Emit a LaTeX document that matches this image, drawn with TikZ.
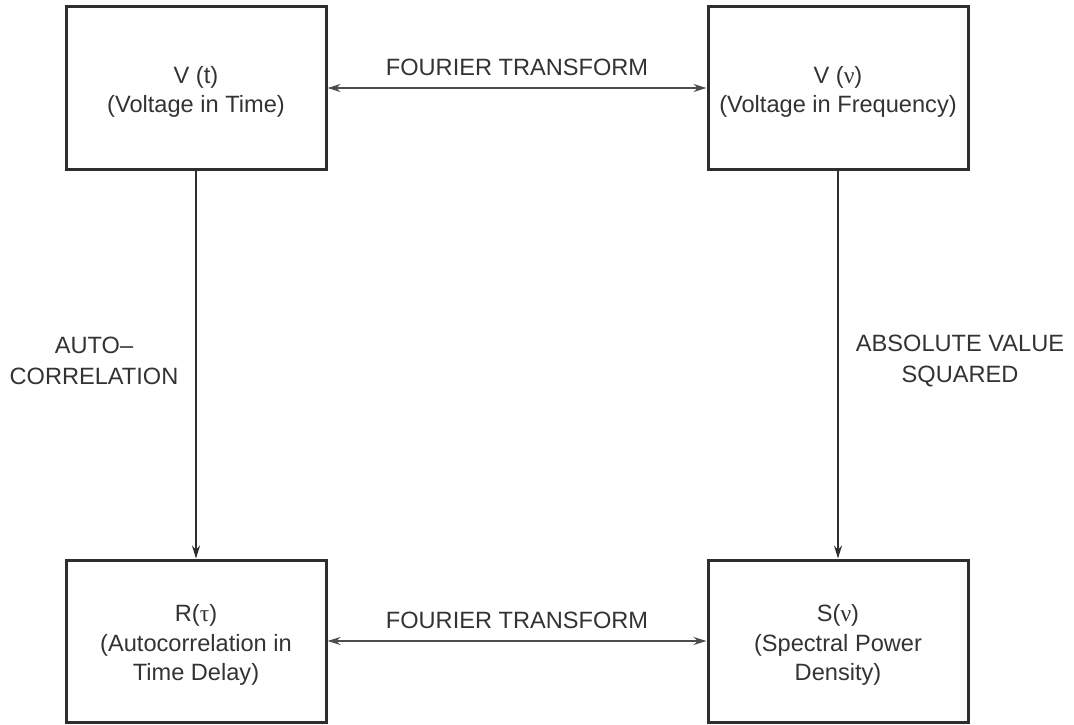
\documentclass[tikz,border=0pt]{standalone}
\usepackage{fontspec}
\setmainfont{Liberation Sans}
\newfontfamily\grk{Liberation Serif}
\usetikzlibrary{arrows.meta}
\definecolor{ink}{HTML}{2E2E2E}
\definecolor{txt}{HTML}{333333}
\begin{document}
\begin{tikzpicture}[x=1pt,y=-1pt,
  box/.style={draw=ink, line width=3pt, minimum width=260pt, minimum height=162pt,
    inner sep=0pt},
  boxtext/.style={align=center, text=txt, inner sep=0pt, font=\fontsize{23.6}{29.5}\selectfont},
  lbl/.style={align=center, text=txt, inner sep=0pt, font=\fontsize{23.6}{31}\selectfont},
  harrow/.style={draw=ink!85, line width=1.5pt, {Stealth[length=13pt,width=8pt]}-{Stealth[length=13pt,width=8pt]}},
  varrow/.style={draw=ink, line width=2pt, -{Stealth[length=13pt,width=8pt]}}]
\useasboundingbox (0,0) rectangle (1074,725);
\node[box] (vt) at (196,88) {};
\node[box] (vn) at (838,88) {};
\node[box] (rt) at (196,641) {};
\node[box] (sn) at (838,641) {};
\node[boxtext] (vtt) at ([yshift=-4pt]vt.center) {V (t)\\(Voltage in Time)};
\node[boxtext] (vnt) at ([yshift=-4pt]vn.center) {V ({\grk ν})\\(Voltage in Frequency)};
\node[boxtext] (rtt) at ([yshift=-4pt]rt.center) {R({\grk τ})\\(Autocorrelation in\\Time Delay)};
\node[boxtext] (snt) at ([yshift=-4pt]sn.center) {S({\grk ν})\\(Spectral Power\\Density)};
\draw[harrow] (vt.east) -- (vn.west);
\draw[harrow] (rt.east) -- (sn.west);
\draw[varrow] (vt.south) -- (rt.north);
\draw[varrow] (vn.south) -- (sn.north);
\node[lbl] (ft1) at (517,67) {FOURIER TRANSFORM};
\node[lbl] (ft2) at (517,620) {FOURIER TRANSFORM};
\node[lbl] (ac) at (94,361) {AUTO--\\CORRELATION};
\node[lbl] (av) at (960,361) {ABSOLUTE VALUE\\SQUARED};
\end{tikzpicture}
\end{document}
